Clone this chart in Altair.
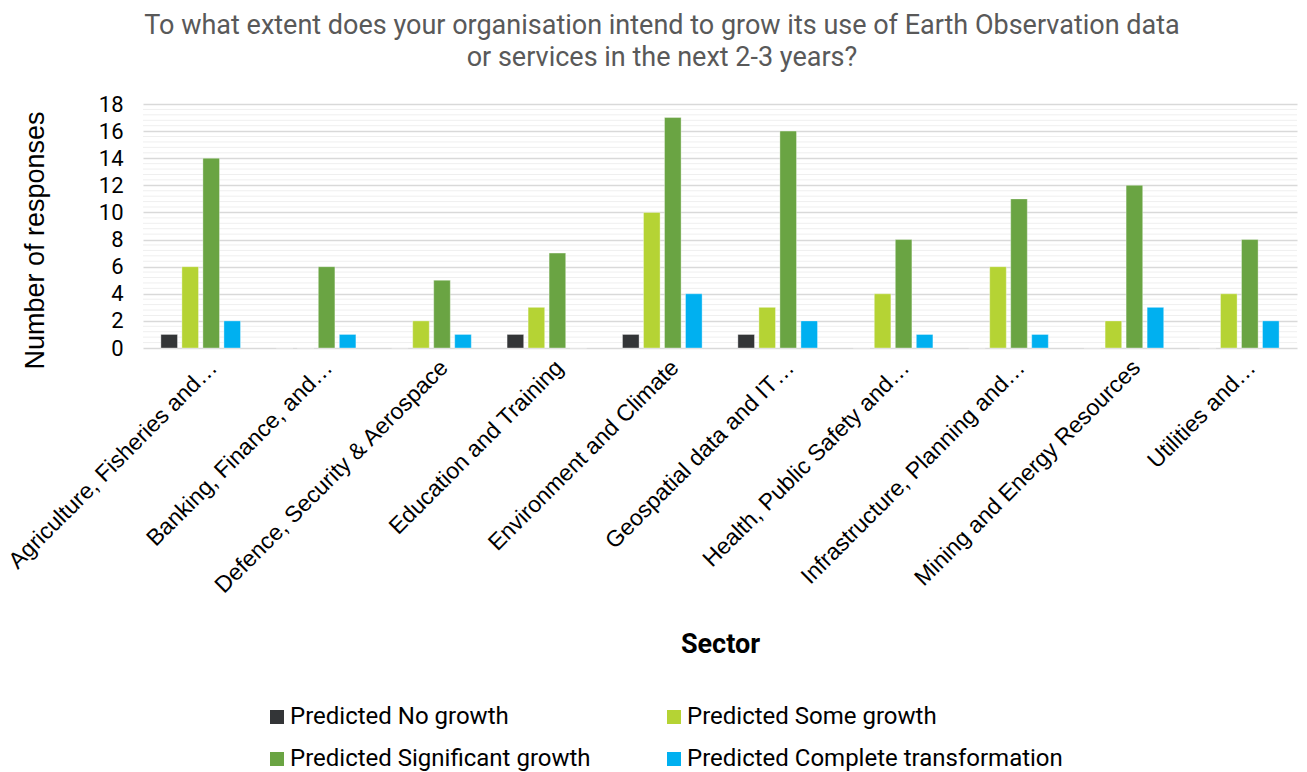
import altair as alt
import pandas as pd

categories = [
    "Agriculture, Fisheries and…",
    "Banking, Finance, and…",
    "Defence, Security & Aerospace",
    "Education and Training",
    "Environment and Climate",
    "Geospatial data and IT…",
    "Health, Public Safety and…",
    "Infrastructure, Planning and…",
    "Mining and Energy Resources",
    "Utilities and…",
]
series = [
    "Predicted No growth",
    "Predicted Some growth",
    "Predicted Significant growth",
    "Predicted Complete transformation",
]
no_growth = [1, 0, 0, 1, 1, 1, 0, 0, 0, 0]
some_growth = [6, 0, 2, 3, 10, 3, 4, 6, 2, 4]
significant_growth = [14, 6, 5, 7, 17, 16, 8, 11, 12, 8]
complete_transformation = [2, 1, 1, 0, 4, 2, 1, 1, 3, 2]
colors = ["#333537", "#B5D334", "#6AA443", "#00B0F0"]
major_ticks = [0, 2, 4, 6, 8, 10, 12, 14, 16, 18]
minor_ticks = [round(k * 0.4, 1) for k in range(46) if k % 5 != 0]

rows = []
for s, vals in zip(series, [no_growth, some_growth, significant_growth, complete_transformation]):
    for c, v in zip(categories, vals):
        rows.append({"Sector": c, "Series": s, "Value": v})
df = pd.DataFrame(rows)
minor_df = pd.DataFrame({"Value": minor_ticks})

# legend fills column by column: order domain so it reads row by row like the reference
legend_order = [series[0], series[2], series[1], series[3]]
legend_colors = [colors[0], colors[2], colors[1], colors[3]]

yscale = alt.Scale(domain=[0, 18], nice=False)
y_axis = alt.Axis(
    title="Number of responses",
    titleFont="Liberation Sans",
    titleFontSize=27,
    titleFontWeight="normal",
    titleColor="#000000",
    titleX=-94,
    titleY=136,
    values=major_ticks,
    labelOverlap=False,
    labelFont="Roboto",
    labelFontSize=22,
    labelColor="#000000",
    labelPadding=20,
    ticks=False,
    domain=False,
    grid=True,
    gridColor="#d9d9d9",
    gridWidth=1.6,
)

minor = alt.Chart(minor_df).mark_rule(color="#efefef", strokeWidth=1).encode(
    y=alt.Y("Value:Q", scale=yscale, axis=y_axis)
)

bars = alt.Chart(df).mark_bar(stroke="#ffffff", strokeWidth=0.6, strokeOpacity=0.6).encode(
    x=alt.X(
        "Sector:N",
        sort=categories,
        scale=alt.Scale(paddingInner=0.31, paddingOuter=0.155),
        axis=alt.Axis(
            title="Sector",
            titleFont="Roboto",
            titleFontSize=27,
            titleFontWeight="bold",
            titleColor="#000000",
            titleY=296,
            titleBaseline="middle",
            labelAngle=-45,
            labelFont="Liberation Sans",
            labelFontSize=23,
            labelColor="#000000",
            labelPadding=8,
            labelOffset=5,
            labelLimit=500,
            ticks=False,
            domain=False,
            grid=False,
        ),
    ),
    xOffset=alt.XOffset(
        "Series:N",
        sort=series,
        scale=alt.Scale(paddingInner=0.21, paddingOuter=0),
    ),
    y=alt.Y("Value:Q", scale=yscale, axis=y_axis),
    color=alt.Color(
        "Series:N",
        scale=alt.Scale(domain=legend_order, range=legend_colors),
        legend=alt.Legend(
            title=None,
            orient="none",
            legendX=122,
            legendY=601,
            columns=2,
            columnPadding=71,
            rowPadding=18,
            symbolType="square",
            symbolSize=196,
            symbolStrokeWidth=0,
            labelFont="Roboto",
            labelFontSize=24,
            labelColor="#000000",
            labelOffset=1,
            labelLimit=500,
        ),
    ),
)

chart = alt.layer(minor, bars).properties(
    width=1154,
    height=244,
    background="#ffffff",
    autosize=alt.AutoSizeParams(type="none"),
    padding={"left": 143, "top": 104, "right": 10, "bottom": 424},
    title=alt.TitleParams(
        text=[
            "To what extent does your organisation intend to grow its use of Earth Observation data",
            "or services in the next 2-3 years?",
        ],
        font="Roboto",
        fontSize=27,
        fontWeight="normal",
        color="#595959",
        anchor="middle",
        dx=-58,
        offset=21,
        lineHeight=32,
    ),
).configure_view(strokeWidth=0, stroke="transparent")

chart.save("out.html", embed_options={"renderer": "svg", "actions": False})
